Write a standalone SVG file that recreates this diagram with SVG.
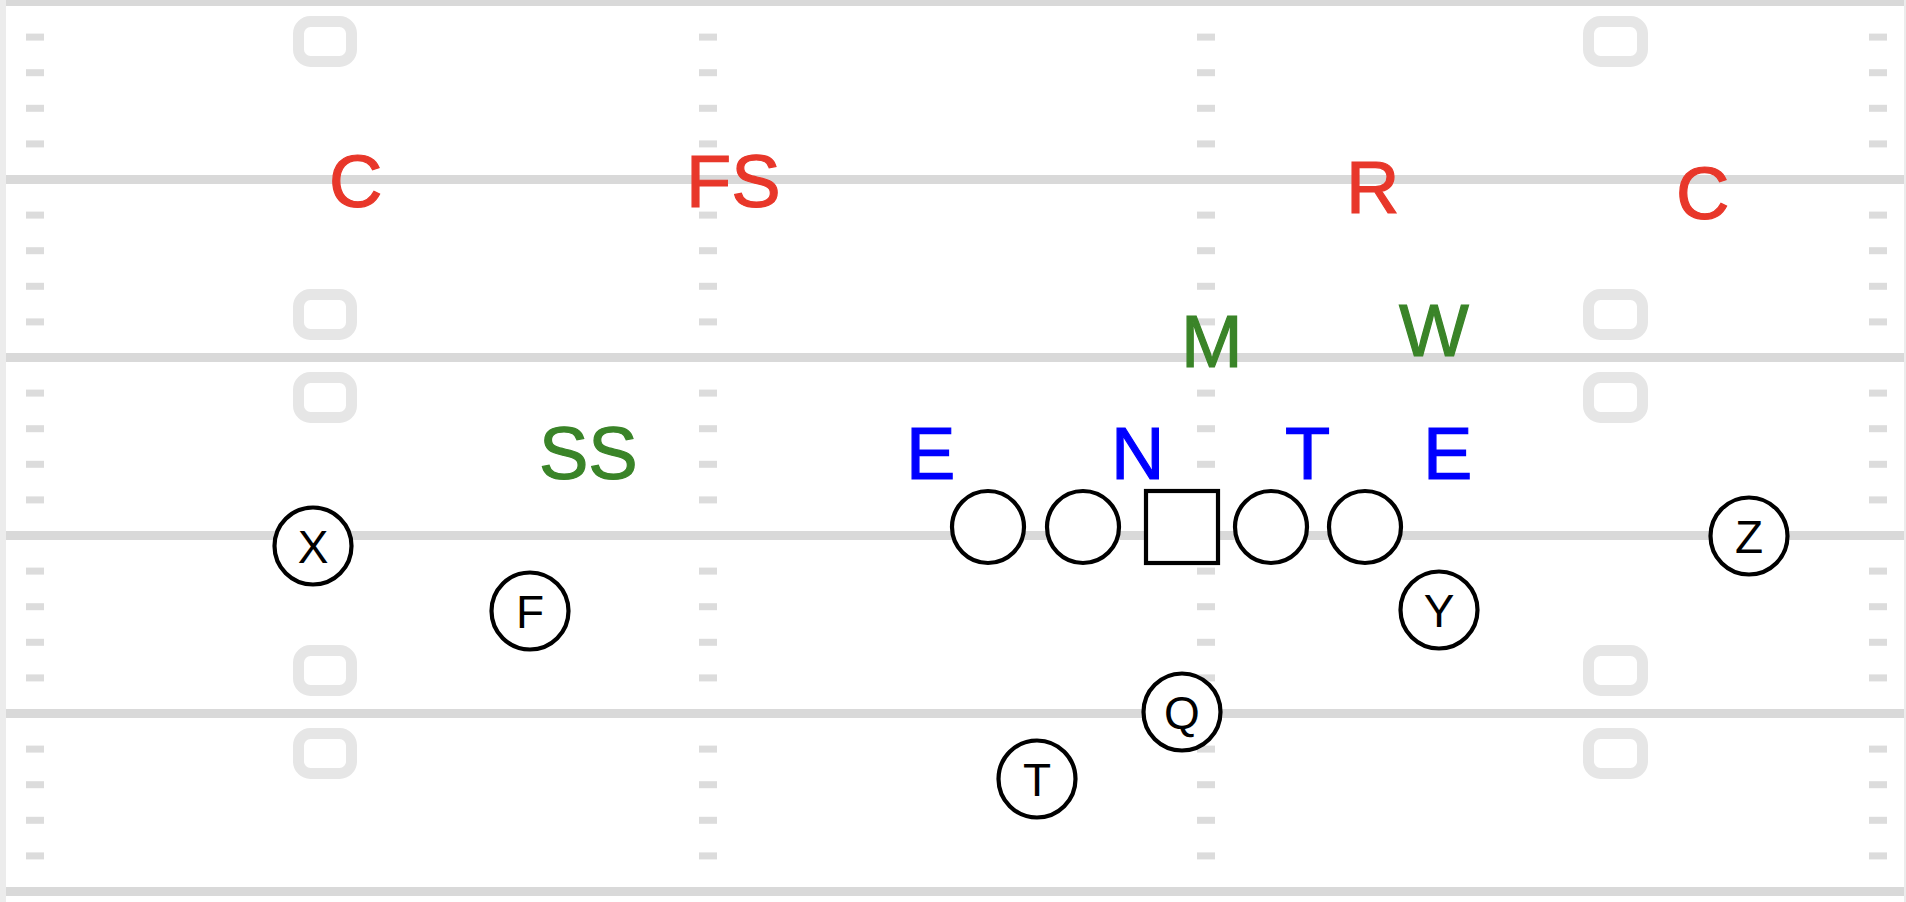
<svg xmlns="http://www.w3.org/2000/svg" xmlns:xlink="http://www.w3.org/1999/xlink" width="1906" height="902" viewBox="0 0 1906 902">
<style>
.yl{stroke:#d9d9d9;stroke-width:9;fill:none}
.hm{fill:#dcdcdc}
.num{fill:none;stroke:#e6e6e6;stroke-width:11}
.pl{fill:#fff;stroke:#000;stroke-width:4.2}
.pt{font-family:"Liberation Sans",Arial,sans-serif;font-size:46px;fill:#000;text-anchor:middle}
.dt{font-family:"Liberation Sans",Arial,sans-serif;font-size:74px;stroke-width:1.2}
.red{fill:#e8372a;stroke:#e8372a}
.grn{fill:#3a8428;stroke:#3a8428}
.blu{fill:#0000ff;stroke:#0000ff}
</style>
<defs>
<g id="hashcol">
<rect x="0" y="33.6" width="18" height="7"/>
<rect x="0" y="69.2" width="18" height="7"/>
<rect x="0" y="104.8" width="18" height="7"/>
<rect x="0" y="140.4" width="18" height="7"/>
</g>
</defs>
<rect x="0" y="0" width="1906" height="902" fill="#ffffff"/>
<g id="field">
<rect x="0" y="0" width="6" height="902" fill="#ececec"/>
<rect x="1904" y="0" width="2" height="902" fill="#ececec"/>
<g class="num">
<rect x="298.5" y="21.5" width="53" height="40" rx="12"/>
<rect x="298.5" y="294.5" width="53" height="40" rx="12"/>
<rect x="298.5" y="377.5" width="53" height="40" rx="12"/>
<rect x="298.5" y="650.5" width="53" height="40" rx="12"/>
<rect x="298.5" y="733.5" width="53" height="40" rx="12"/>
<rect x="1588.5" y="21.5" width="54" height="40" rx="12"/>
<rect x="1588.5" y="294.5" width="54" height="40" rx="12"/>
<rect x="1588.5" y="377.5" width="54" height="40" rx="12"/>
<rect x="1588.5" y="650.5" width="54" height="40" rx="12"/>
<rect x="1588.5" y="733.5" width="54" height="40" rx="12"/>
</g>
<g class="hm">
<use xlink:href="#hashcol" x="26" y="0"/><use xlink:href="#hashcol" x="26" y="178"/><use xlink:href="#hashcol" x="26" y="356"/><use xlink:href="#hashcol" x="26" y="534"/><use xlink:href="#hashcol" x="26" y="712"/>
<use xlink:href="#hashcol" x="699" y="0"/><use xlink:href="#hashcol" x="699" y="178"/><use xlink:href="#hashcol" x="699" y="356"/><use xlink:href="#hashcol" x="699" y="534"/><use xlink:href="#hashcol" x="699" y="712"/>
<use xlink:href="#hashcol" x="1197" y="0"/><use xlink:href="#hashcol" x="1197" y="178"/><use xlink:href="#hashcol" x="1197" y="356"/><use xlink:href="#hashcol" x="1197" y="534"/><use xlink:href="#hashcol" x="1197" y="712"/>
<use xlink:href="#hashcol" x="1869" y="0"/><use xlink:href="#hashcol" x="1869" y="178"/><use xlink:href="#hashcol" x="1869" y="356"/><use xlink:href="#hashcol" x="1869" y="534"/><use xlink:href="#hashcol" x="1869" y="712"/>
</g>
<g class="yl">
<line x1="6" y1="1.5" x2="1904" y2="1.5"/>
<line x1="6" y1="179.5" x2="1904" y2="179.5"/>
<line x1="6" y1="357.5" x2="1904" y2="357.5"/>
<line x1="6" y1="535.5" x2="1904" y2="535.5"/>
<line x1="6" y1="713.5" x2="1904" y2="713.5"/>
<line x1="6" y1="891.5" x2="1904" y2="891.5"/>
</g>
</g>
<g id="connectors"></g>
<g id="offense">
<g id="lt"><circle class="pl" cx="988" cy="527" r="36"/></g>
<g id="lg"><circle class="pl" cx="1083" cy="527" r="36"/></g>
<g id="center"><rect class="pl" x="1146" y="491" width="72" height="72"/></g>
<g id="rg"><circle class="pl" cx="1271" cy="527" r="36"/></g>
<g id="rt"><circle class="pl" cx="1365" cy="527" r="36"/></g>
<g id="pX"><circle class="pl" cx="313" cy="546" r="38.5"/><text class="pt" x="313" y="562.5">X</text></g>
<g id="pF"><circle class="pl" cx="530" cy="611" r="38.5"/><text class="pt" x="530" y="627.5">F</text></g>
<g id="pQ"><circle class="pl" cx="1182" cy="712" r="38.5"/><text class="pt" x="1182" y="728.5">Q</text></g>
<g id="pT"><circle class="pl" cx="1037" cy="779" r="38.5"/><text class="pt" x="1037" y="795.5">T</text></g>
<g id="pY"><circle class="pl" cx="1439" cy="610" r="38.5"/><text class="pt" x="1439" y="626.5">Y</text></g>
<g id="pZ"><circle class="pl" cx="1749" cy="536" r="38.5"/><text class="pt" x="1749" y="552.5">Z</text></g>
</g>
<g id="defense">
<g id="dC1"><text class="dt red" x="329" y="207">C</text></g>
<g id="dFS"><text class="dt red" x="686" y="207">FS</text></g>
<g id="dR"><text class="dt red" x="1346" y="213">R</text></g>
<g id="dC2"><text class="dt red" x="1676" y="219">C</text></g>
<g id="dM"><text class="dt grn" x="1181" y="367">M</text></g>
<g id="dW"><text class="dt grn" x="1399" y="356">W</text></g>
<g id="dSS"><text class="dt grn" x="539" y="479">SS</text></g>
<g id="dE1"><text class="dt blu" x="906" y="479">E</text></g>
<g id="dN"><text class="dt blu" x="1111" y="479">N</text></g>
<g id="dT"><text class="dt blu" x="1285" y="479">T</text></g>
<g id="dE2"><text class="dt blu" x="1423" y="479">E</text></g>
</g>
</svg>
